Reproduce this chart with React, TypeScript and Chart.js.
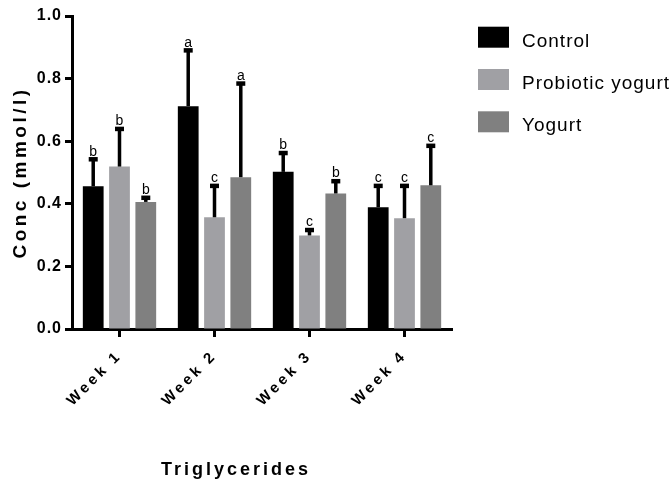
import React, { useEffect, useRef } from 'react';
import { Chart, registerables, CategoryScale, LinearScale } from 'chart.js';

Chart.register(...registerables);

const FONT = "'Liberation Sans', Arial, Helvetica, sans-serif";

const categories = ['Week 1', 'Week 2', 'Week 3', 'Week 4'];
const seriesNames = ['Control', 'Probiotic yogurt', 'Yogurt'];
const seriesColors = ['#000000', '#a0a0a4', '#808080'];
const controlMeans = [0.456, 0.712, 0.502, 0.389];
const probioticMeans = [0.519, 0.357, 0.299, 0.354];
const yogurtMeans = [0.406, 0.485, 0.433, 0.459];
const controlSD = [0.087, 0.179, 0.061, 0.069];
const probioticSD = [0.121, 0.101, 0.018, 0.104];
const yogurtSD = [0.014, 0.3, 0.04, 0.127];
const controlLetters = ['b', 'a', 'b', 'c'];
const probioticLetters = ['b', 'c', 'c', 'c'];
const yogurtLetters = ['b', 'a', 'b', 'c'];
const yTickValues = [0, 0.2, 0.4, 0.6, 0.8, 1.0];
const yTitle = 'Conc (mmol/l)';
const xTitle = 'Triglycerides';

const allMeans = [controlMeans, probioticMeans, yogurtMeans];
const allSD = [controlSD, probioticSD, yogurtSD];
const allLetters = [controlLetters, probioticLetters, yogurtLetters];

const TEXT_SPACING: Record<string, { ticks: string; title: string; titleShift: number }> = {
  x: { ticks: '3.2px', title: '3px', titleShift: -26 },
  y: { ticks: '1px', title: '3.5px', titleShift: 0 },
};

function withSpacing(scale: any, part: 'ticks' | 'title', fn: () => void) {
  const ctx: CanvasRenderingContext2D = scale.ctx;
  const s = TEXT_SPACING[scale.id] || { ticks: '0px', title: '0px', titleShift: 0 };
  ctx.save();
  (ctx as any).letterSpacing = s[part];
  if (part === 'title' && s.titleShift) ctx.translate(s.titleShift, 0);
  fn();
  ctx.restore();
}

class SpacedCategoryScale extends CategoryScale {
  static id = 'spacedCategory';
  drawLabels(area: any) {
    withSpacing(this, 'ticks', () => super.drawLabels(area));
  }
  drawTitle() {
    withSpacing(this, 'title', () => super.drawTitle());
  }
}

class SpacedLinearScale extends LinearScale {
  static id = 'spacedLinear';
  drawLabels(area: any) {
    withSpacing(this, 'ticks', () => super.drawLabels(area));
  }
  drawTitle() {
    withSpacing(this, 'title', () => super.drawTitle());
  }
}

Chart.register(SpacedCategoryScale as any, SpacedLinearScale as any);

const errorBarPlugin = {
  id: 'errorBarsLetters',
  afterDatasetsDraw(chart: any) {
    const ctx: CanvasRenderingContext2D = chart.ctx;
    const yScale = chart.scales.y;
    chart.data.datasets.forEach((ds: any, i: number) => {
      const meta = chart.getDatasetMeta(i);
      meta.data.forEach((bar: any, j: number) => {
        const top = yScale.getPixelForValue(allMeans[i][j] + allSD[i][j]);
        const base = bar.y;
        ctx.save();
        ctx.fillStyle = '#000';
        ctx.fillRect(bar.x - 1.75, top, 3.5, base - top);
        ctx.fillRect(bar.x - 4.5, top - 2, 9, 4.5);
        ctx.font = `14px ${FONT}`;
        ctx.textAlign = 'center';
        ctx.textBaseline = 'alphabetic';
        ctx.fillText(allLetters[i][j], bar.x, top - 3.5);
        ctx.restore();
      });
    });
  },
};

const legendPlugin = {
  id: 'sideLegend',
  afterDraw(chart: any) {
    const ctx: CanvasRenderingContext2D = chart.ctx;
    const { right, top } = chart.chartArea;
    chart.data.datasets.forEach((ds: any, i: number) => {
      const bx = right + 26;
      const by = top + 10.7 + i * 42.3;
      ctx.save();
      ctx.fillStyle = ds.backgroundColor;
      ctx.fillRect(bx, by, 31, 21);
      ctx.fillStyle = '#000';
      ctx.font = `19px ${FONT}`;
      (ctx as any).letterSpacing = '1px';
      ctx.textAlign = 'left';
      ctx.textBaseline = 'alphabetic';
      ctx.fillText(ds.label, right + 70, by + 20);
      ctx.restore();
    });
  },
};

export default function App() {
  const canvasRef = useRef<HTMLCanvasElement | null>(null);

  useEffect(() => {
    if (!canvasRef.current) return;
    Chart.defaults.font.family = FONT;
    Chart.defaults.color = '#000';
    const chart = new Chart(canvasRef.current, {
      type: 'bar',
      data: {
        labels: categories,
        datasets: seriesNames.map((name, i) => ({
          label: name,
          data: allMeans[i],
          backgroundColor: seriesColors[i],
          borderWidth: 0,
          categoryPercentage: 0.83,
          barPercentage: 0.79,
        })),
      },
      options: {
        responsive: false,
        animation: false,
        devicePixelRatio: 1,
        layout: { padding: { left: 0, top: 16, right: 219, bottom: 0 } },
        plugins: {
          legend: { display: false },
          tooltip: { enabled: false },
        },
        scales: {
          x: {
            type: 'spacedCategory' as any,
            grid: {
              offset: false,
              drawOnChartArea: false,
              drawTicks: true,
              tickLength: 8,
              tickWidth: 3,
              color: '#000',
            },
            border: { display: true, color: '#000', width: 3 },
            ticks: {
              autoSkip: false,
              maxRotation: 45,
              minRotation: 45,
              padding: 10,
              color: '#000',
              font: { size: 15, weight: 'bold', family: FONT },
            },
            title: {
              display: true,
              text: xTitle,
              color: '#000',
              font: { size: 18, weight: 'bold', family: FONT },
              padding: { top: 0, bottom: 1.2 },
            },
            afterFit: (scale: any) => {
              scale.height = 153;
            },
          },
          y: {
            type: 'spacedLinear' as any,
            min: 0,
            max: 1,
            afterBuildTicks: (scale: any) => {
              scale.ticks = yTickValues.map((v) => ({ value: v }));
            },
            grid: {
              drawOnChartArea: false,
              drawTicks: true,
              tickLength: 7,
              tickWidth: 3,
              color: '#000',
            },
            border: { display: true, color: '#000', width: 3 },
            ticks: {
              padding: 3,
              color: '#000',
              font: { size: 16, weight: 'bold', family: FONT },
              callback: (v: any) => Number(v).toFixed(1),
            },
            title: {
              display: true,
              text: yTitle,
              color: '#000',
              font: { size: 19, weight: 'bold', family: FONT },
              padding: { top: 9.6, bottom: 0 },
            },
            afterFit: (scale: any) => {
              scale.width = 72;
            },
          },
        },
      } as any,
      plugins: [errorBarPlugin, legendPlugin],
    });
    return () => chart.destroy();
  }, []);

  return (
    <div style={{ position: 'fixed', left: 0, top: 0, width: 671, height: 482, background: '#fff' }}>
      <canvas ref={canvasRef} width={671} height={482} style={{ display: 'block' }} />
    </div>
  );
}
